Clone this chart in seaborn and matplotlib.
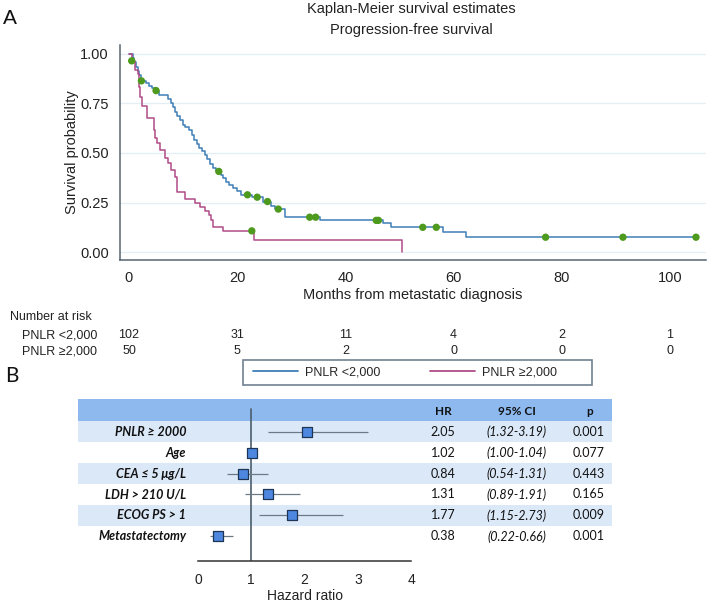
import numpy as np
import pandas as pd
import matplotlib.pyplot as plt
import matplotlib.transforms as mtransforms
from matplotlib.lines import Line2D
from matplotlib.patches import Rectangle
import seaborn as sns

sns.set_theme(style="white")
plt.rcParams['font.family'] = ['Liberation Sans', 'DejaVu Sans']

# ------------------------------------------------------------
# Data
# ------------------------------------------------------------
# Kaplan-Meier steps, PNLR <2,000
low_t = [0, 0.68, 0.99, 1.29, 1.60, 1.91, 2.22, 3.08, 3.69, 4.31, 4.80, 5.60,
         7.27, 7.70, 8.07, 8.50, 8.93, 9.42, 9.91, 10.34, 11.15, 11.58, 12.01,
         12.50, 12.99, 13.49, 13.98, 14.47, 14.96, 15.46, 16.07, 16.93, 17.43,
         17.92, 18.53, 19.15, 19.89, 20.63, 22.66, 24.82, 26.17, 26.97, 28.82,
         35.3, 46.9, 48.5, 58.0, 62.3, 104.8]
low_s = [1.0, 0.978, 0.961, 0.936, 0.916, 0.894, 0.864, 0.852, 0.839, 0.827,
         0.815, 0.793, 0.773, 0.751, 0.731, 0.709, 0.687, 0.664, 0.642, 0.630,
         0.617, 0.592, 0.566, 0.546, 0.524, 0.508, 0.491, 0.469, 0.445, 0.424,
         0.407, 0.390, 0.373, 0.356, 0.340, 0.323, 0.306, 0.289, 0.277, 0.255,
         0.234, 0.217, 0.176, 0.160, 0.145, 0.125, 0.100, 0.075, 0.075]

# Kaplan-Meier steps, PNLR >=2,000
high_t = [0, 0.49, 1.11, 1.60, 1.91, 2.03, 2.46, 3.26, 4.62, 4.86, 5.23, 5.73,
          6.60, 7.20, 7.80, 8.50, 8.90, 10.3, 12.2, 13.1, 14.0, 14.7, 15.2,
          15.6, 17.3, 23.1, 50.4, 50.4]
high_s = [1.0, 0.965, 0.92, 0.90, 0.835, 0.785, 0.735, 0.675, 0.617, 0.575,
          0.55, 0.515, 0.473, 0.448, 0.414, 0.38, 0.305, 0.27, 0.248, 0.227,
          0.207, 0.186, 0.16, 0.125, 0.107, 0.059, 0.059, 0.0]

# censored observations
cens_t = [2.3, 5.0, 16.6, 21.9, 23.7, 25.6, 27.6, 33.4, 34.5, 45.7, 46.1,
          54.3, 56.8, 77.0, 91.3, 104.8, 0.5, 22.7]
cens_s = [0.864, 0.815, 0.407, 0.289, 0.277, 0.255, 0.217, 0.176, 0.176,
          0.160, 0.160, 0.125, 0.125, 0.075, 0.075, 0.075, 0.965, 0.107]

# number at risk
risk_times = [0, 20, 40, 60, 80, 100]
risk_low = [102, 31, 11, 4, 2, 1]
risk_high = [50, 5, 2, 0, 0, 0]

# Cox model table
var_labels = ['PNLR ≥ 2000', 'Age', 'CEA ≤ 5 μg/L', 'LDH > 210 U/L',
              'ECOG PS > 1', 'Metastatectomy']
hr = [2.05, 1.02, 0.84, 1.31, 1.77, 0.38]
ci_lo = [1.32, 1.00, 0.54, 0.89, 1.15, 0.22]
ci_hi = [3.19, 1.04, 1.31, 1.91, 2.73, 0.66]
p_vals = ['0.001', '0.077', '0.443', '0.165', '0.009', '0.001']

BLUE = '#3f7fb6'
PINK = '#b04c86'
GREEN = '#4e9a1e'
AXC = '#56646f'
TXT = '#222222'
LATO = ['Lato', 'DejaVu Sans']

W, H = 708, 604
fig = plt.figure(figsize=(W / 100, H / 100), dpi=100)

# ------------------------------------------------------------
# Panel A: Kaplan-Meier
# ------------------------------------------------------------
ax = fig.add_axes([120 / W, 1 - 260 / H, (706 - 120) / W, (260 - 45) / H])
for y in [0, 0.25, 0.5, 0.75, 1.0]:
    ax.axhline(y, color='#e3eff5', lw=0.9, zorder=0)

sns.lineplot(x=low_t, y=low_s, ax=ax, color=BLUE, lw=1.1, estimator=None,
             sort=False, drawstyle='steps-post', zorder=3)
sns.lineplot(x=high_t, y=high_s, ax=ax, color=PINK, lw=1.1, estimator=None,
             sort=False, drawstyle='steps-post', zorder=3)
sns.scatterplot(x=cens_t, y=cens_s, ax=ax, color=GREEN, s=28,
                edgecolor='none', zorder=4)

ax.set_xlim(-1.66, 106.65)
ax.set_ylim(-0.040, 1.045)
ax.set_xticks(risk_times)
ax.set_yticks([0, 0.25, 0.5, 0.75, 1.0])
ax.set_yticklabels(['0.00', '0.25', '0.50', '0.75', '1.00'])
for s in ['top', 'right']:
    ax.spines[s].set_visible(False)
for s in ['left', 'bottom']:
    ax.spines[s].set_color(AXC)
    ax.spines[s].set_linewidth(1.1)
ax.tick_params(axis='both', direction='out', length=5, width=1, color=AXC,
               labelsize=10.5, labelcolor=TXT, pad=3)
ax.set_xlabel('Months from metastatic diagnosis', fontsize=10.5,
              color=TXT, labelpad=2)
ax.set_ylabel('Survival probability', fontsize=10.5, color=TXT,
              labelpad=1)

fig.text(411 / W, 1 - 9 / H, 'Kaplan-Meier survival estimates', ha='center',
         va='center', fontsize=10.5, color=TXT)
fig.text(411 / W, 1 - 30 / H, 'Progression-free survival', ha='center',
         va='center', fontsize=10.5, color=TXT)
fig.text(3 / W, 1 - 18 / H, 'A', ha='left', va='center', fontsize=15,
         color='#111111')

# number at risk table
trans = mtransforms.blended_transform_factory(ax.transData, fig.transFigure)
fig.text(10 / W, 1 - 317 / H, 'Number at risk', ha='left', va='center',
         fontsize=9, color=TXT)
fig.text(22 / W, 1 - 335 / H, 'PNLR <2,000', ha='left', va='center',
         fontsize=9, color=TXT)
fig.text(22 / W, 1 - 351 / H, 'PNLR ≥2,000', ha='left', va='center',
         fontsize=9, color=TXT)
for t, a, b in zip(risk_times, risk_low, risk_high):
    ax.text(t, 1 - 335 / H, str(a), transform=trans, ha='center',
            va='center', fontsize=9, color=TXT)
    ax.text(t, 1 - 351 / H, str(b), transform=trans, ha='center',
            va='center', fontsize=9, color=TXT)

# legend (frame drawn as its own box to match the wide reference frame)
fig.patches.append(Rectangle((243 / W, 1 - 385 / H), 349 / W, 25 / H,
                             transform=fig.transFigure, fill=False,
                             edgecolor='#6f8290', lw=1.2))
handles = [Line2D([], [], color=BLUE, lw=1.3), Line2D([], [], color=PINK, lw=1.3)]
fig.legend(handles, ['PNLR <2,000', 'PNLR ≥2,000'], ncol=2,
           loc='center left', bbox_to_anchor=(253 / W, 1 - 372.5 / H),
           prop={'size': 9}, handlelength=3.6, handletextpad=0.55,
           columnspacing=4.0, frameon=False, borderaxespad=0, borderpad=0)

fig.text(5 / W, 1 - 376 / H, 'B', ha='left', va='center', fontsize=15,
         family=LATO, color='#111111')

# ------------------------------------------------------------
# Panel B: forest plot
# ------------------------------------------------------------
fx = fig.add_axes([78 / W, 43 / H, (612 - 78) / W, (561 - 399) / H])
fx.set_xlim(-2.25, 7.77)
fx.set_ylim(6.167, -1.548)
fx.axhspan(-1.548, -0.5, color='#8db9ef', lw=0, zorder=0)
for i in range(len(var_labels)):
    if i % 2 == 0:
        fx.axhspan(i - 0.5, i + 0.5, color='#dbe8f8', lw=0, zorder=0)

fx.plot([1, 1], [-1.07, 6.167], color='#4b5d6b', lw=1.2, zorder=1)
rows = np.arange(len(var_labels))
fx.hlines(rows, ci_lo, ci_hi, color='#6c7a86', lw=0.9, zorder=2)
sns.scatterplot(x=hr, y=rows, ax=fx, marker='s', s=62, color='#4d87e0',
                edgecolor='#1d3557', linewidth=0.9, zorder=3)

for i, lab in enumerate(var_labels):
    fx.text(-0.22, i, lab, ha='right', va='center', fontsize=9,
            family=LATO, weight='bold', style='italic', color='#111111')
    fx.text(4.60, i, f'{hr[i]:.2f}', ha='center', va='center', fontsize=9,
            family=LATO, color='#111111')
    fx.text(5.985, i, f'({ci_lo[i]:.2f}-{ci_hi[i]:.2f})', ha='center',
            va='center', fontsize=9, family=LATO, style='italic',
            color='#111111')
    fx.text(7.34, i, p_vals[i], ha='center', va='center', fontsize=9,
            family=LATO, color='#111111')
for xx, lab in zip([4.60, 5.985, 7.34], ['HR', '95% CI', 'p']):
    fx.text(xx, -0.95, lab, ha='center', va='center', fontsize=8.5,
            family=LATO, weight='bold', color='#111111')

for s in ['top', 'right', 'left']:
    fx.spines[s].set_visible(False)
fx.spines['bottom'].set_bounds(0, 4)
fx.spines['bottom'].set_color('#333333')
fx.spines['bottom'].set_linewidth(1.1)
fx.set_xticks([0, 1, 2, 3, 4])
fx.set_yticks([])
fx.tick_params(axis='x', direction='out', length=5, width=1, color='#333333',
               labelsize=10, labelcolor=TXT, pad=4)
fx.set_xlabel('Hazard ratio', fontsize=10, color=TXT)
fx.xaxis.set_label_coords((305 - 78) / (612 - 78), -0.175)

fig.savefig('out.png', dpi=100)
